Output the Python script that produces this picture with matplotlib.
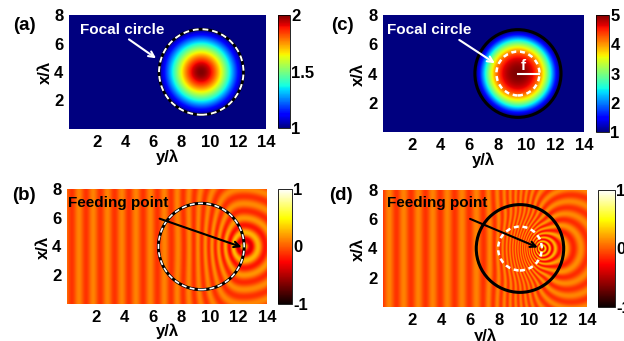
import numpy as np
import matplotlib
matplotlib.use('Agg')
import matplotlib.pyplot as plt
from matplotlib.patches import Circle
from matplotlib.ticker import FixedFormatter

plt.rcParams['font.family'] = ['Liberation Sans', 'DejaVu Sans']
plt.rcParams['font.weight'] = 'bold'
plt.rcParams['axes.unicode_minus'] = False

# ---------------- data ----------------
x_range = [0, 14]
y_range = [0, 8]
xticks = [2, 4, 6, 8, 10, 12, 14]
yticks = [2, 4, 6, 8]
lens_center = (9.4, 4.0)
lens_radius = 3.0
focal_radius = 1.5
n_max_a = 2.0
n_max_c = 5.0
profile_exp_c = 1.2
feed_b = (12.4, 4.0)
feed_d = (10.9, 4.0)
cbar_ticks_a = [1, 1.5, 2]
cbar_labels_a = ['1', '1.5', '2']
cbar_ticks_c = [1, 2, 3, 4, 5]
cbar_labels_c = ['1', '2', '3', '4', '5']
cbar_ticks_field = [-1, 0, 1]
cbar_labels_field = ['-1', '0', '1']
panel_labels = ['(a)', '(b)', '(c)', '(d)']
xlabel = 'y/λ'
ylabel = 'x/λ'

W, H = 624, 341
fig = plt.figure(figsize=(W / 100, H / 100), dpi=100)


def box(x0, y0, x1, y1):
    return [x0 / W, 1 - y1 / H, (x1 - x0) / W, (y1 - y0) / H]


def fpos(x, y):
    return x / W, 1 - y / H


cx, cy = lens_center
R = lens_radius
gx = np.linspace(x_range[0], x_range[1], 560)
gy = np.linspace(y_range[0], y_range[1], 320)
X, Y = np.meshgrid(gx, gy)


def n_fisheye(r):
    return np.where(r < R, n_max_a / (1 + (r / R) ** 2), 1.0)


def n_focal(r):
    u = np.clip(1 - (r / R) ** 2, 0, 1)
    g = 0.5 * (u * u * (3 - 2 * u) + u ** profile_exp_c)
    return np.where(r < R, 1 + (n_max_c - 1) * g, 1.0)


def field(nfun, src):
    xs, ys = src
    d = np.hypot(X - xs, Y - ys)
    acc = np.zeros_like(X)
    ts = (np.arange(32) + 0.5) / 32
    for t in ts:
        px = xs + (X - xs) * t
        py = ys + (Y - ys) * t
        acc += nfun(np.hypot(px - cx, py - cy))
    Ls = d * acc / len(ts)
    xa = np.linspace(cx - R, xs, 400)
    na = nfun(np.abs(xa - cx))
    L_axis = np.sum((na[1:] + na[:-1]) / 2 * np.diff(xa))
    Lp = L_axis + (cx - R - X)
    w = np.clip((xs - X) / (xs - (cx - R)), 0, 1)
    w = w * w * (3 - 2 * w)
    L = (1 - w) * Ls + w * Lp
    A = 0.12 + 0.4 * np.exp(-d / 1.0)
    return A * np.cos(2 * np.pi * L)


rr = np.hypot(X - cx, Y - cy)
img_a = n_fisheye(rr)
img_c = n_focal(rr)
img_b = field(n_fisheye, feed_b)
img_d = field(n_focal, feed_d)

TICK_FS = 12
extent = [x_range[0], x_range[1], y_range[0], y_range[1]]


def setup_axes(ax):
    ax.set_xlim(x_range)
    ax.set_ylim(y_range)
    ax.set_xticks(xticks)
    ax.set_yticks(yticks)
    ax.tick_params(length=0, labelsize=TICK_FS, pad=4)
    for lab in ax.get_xticklabels() + ax.get_yticklabels():
        lab.set_fontweight('bold')
    for s in ax.spines.values():
        s.set_visible(False)


def setup_cbar(cb, ticks, labels):
    cb.set_ticks(ticks)
    cb.ax.yaxis.set_major_formatter(FixedFormatter(labels))
    cb.ax.tick_params(length=0, labelsize=TICK_FS, pad=1)
    for lab in cb.ax.get_yticklabels():
        lab.set_fontweight('bold')
    cb.outline.set_linewidth(0.6)


# ---- panel (a)
axa = fig.add_axes(box(69, 15, 266, 129))
ima = axa.imshow(img_a, extent=extent, origin='lower', aspect='auto', cmap='jet', vmin=1, vmax=2)
setup_axes(axa)
axa.add_patch(Circle(lens_center, R, fill=False, ec='black', lw=2.0))
axa.add_patch(Circle(lens_center, R, fill=False, ec='white', lw=1.4, ls=(0, (3, 2))))
axa.text(0.8, 6.95, 'Focal circle', color='white', fontsize=11, fontweight='bold', va='center')
axa.annotate('', xy=(6.35, 4.85), xytext=(4.1, 6.4),
             arrowprops=dict(arrowstyle='->', color='white', lw=1.5))
caxa = fig.add_axes(box(278, 15, 290, 128))
cba = fig.colorbar(ima, cax=caxa)
setup_cbar(cba, cbar_ticks_a, cbar_labels_a)

# ---- panel (c)
axc = fig.add_axes(box(383, 15, 584, 132))
imc = axc.imshow(img_c, extent=extent, origin='lower', aspect='auto', cmap='jet', vmin=1, vmax=5)
setup_axes(axc)
axc.add_patch(Circle(lens_center, R, fill=False, ec='black', lw=2.2))
axc.add_patch(Circle(lens_center, focal_radius, fill=False, ec='white', lw=1.8, ls=(0, (2, 1.5))))
axc.plot([cx, cx + focal_radius], [cy, cy], color='white', lw=1.5)
axc.text(9.75, 4.5, 'f', color='white', fontsize=11, fontweight='bold', ha='center', va='center')
axc.text(0.28, 6.97, 'Focal circle', color='white', fontsize=11, fontweight='bold', va='center')
axc.annotate('', xy=(7.95, 4.6), xytext=(5.15, 6.4),
             arrowprops=dict(arrowstyle='->', color='white', lw=1.5))
caxc = fig.add_axes(box(596, 15, 609, 132))
cbc = fig.colorbar(imc, cax=caxc)
setup_cbar(cbc, cbar_ticks_c, cbar_labels_c)

# ---- panel (b)
axb = fig.add_axes(box(67, 189, 267, 304))
imb = axb.imshow(img_b, extent=extent, origin='lower', aspect='auto', cmap='hot', vmin=-1, vmax=1)
setup_axes(axb)
axb.add_patch(Circle(lens_center, R, fill=False, ec='black', lw=2.2))
axb.add_patch(Circle(lens_center, R, fill=False, ec='white', lw=1.2, ls=(0, (3, 2))))
axb.text(0.07, 7.03, 'Feeding point', color='black', fontsize=11, fontweight='bold', va='center')
axb.annotate('', xy=(feed_b[0], feed_b[1] - 0.1), xytext=(6.3, 6.0),
             arrowprops=dict(arrowstyle='->', color='black', lw=1.5))
caxb = fig.add_axes(box(278, 189, 292, 304))
cbb = fig.colorbar(imb, cax=caxb)
setup_cbar(cbb, cbar_ticks_field, cbar_labels_field)

# ---- panel (d)
axd = fig.add_axes(box(383, 190, 587, 307))
imd = axd.imshow(img_d, extent=extent, origin='lower', aspect='auto', cmap='hot', vmin=-1, vmax=1)
setup_axes(axd)
axd.add_patch(Circle(lens_center, R, fill=False, ec='black', lw=2.2))
axd.add_patch(Circle(lens_center, focal_radius, fill=False, ec='white', lw=1.8, ls=(0, (2, 1.5))))
axd.text(0.27, 7.1, 'Feeding point', color='black', fontsize=11, fontweight='bold', va='center')
axd.annotate('', xy=(feed_d[0] - 0.1, feed_d[1]), xytext=(5.8, 6.1),
             arrowprops=dict(arrowstyle='->', color='black', lw=1.5))
caxd = fig.add_axes(box(598, 190, 615, 307))
cbd = fig.colorbar(imd, cax=caxd)
setup_cbar(cbd, cbar_ticks_field, cbar_labels_field)

# ---- labels
LAB_FS = 12
for txt, (x, y) in zip(panel_labels, [(24, 25), (24, 195), (342, 25), (341, 195)]):
    fig.text(*fpos(x, y), txt, fontsize=13.5, fontweight='bold', ha='center', va='center')
for (x, y) in [(45, 72), (43, 247), (358, 74), (358, 249)]:
    fig.text(*fpos(x, y), ylabel, fontsize=LAB_FS, fontweight='bold', rotation=90, ha='center', va='center')
for (x, y) in [(167, 157), (167, 331), (483, 160), (485, 336)]:
    fig.text(*fpos(x, y), xlabel, fontsize=LAB_FS, fontweight='bold', ha='center', va='center')

fig.savefig('out.png', dpi=100)
